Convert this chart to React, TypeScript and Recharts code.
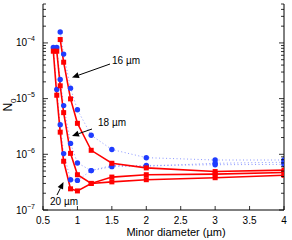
import { LineChart, Line, XAxis, YAxis } from "recharts";

// minor diameter (µm) sample points
const diam = [0.65, 0.7, 0.75, 0.8, 0.9, 1.0, 1.2, 1.5, 2, 3, 4];

// red (solid, squares)
const red16 = [null, null, 1.15e-4, 4.5e-5, 9.9e-6, 3.6e-6, 1.18e-6, 6.9e-7, 5.7e-7, 4.9e-7, 5.2e-7];
const red18 = [null, 7.1e-5, 1.7e-5, 5.6e-6, 1.04e-6, 4.3e-7, 3.0e-7, 3.9e-7, 4.3e-7, 4.4e-7, 4.7e-7];
const red20 = [7.1e-5, 1.15e-5, 2.5e-6, 7.5e-7, 2.4e-7, 2.2e-7, 3.0e-7, 3.2e-7, 3.5e-7, 3.8e-7, 4.2e-7];

// blue (dotted, circles)
const blue16 = [null, null, 1.57e-4, 6.3e-5, 1.54e-5, 6.3e-6, 2.2e-6, 1.22e-6, 8.7e-7, 7.9e-7, 7.9e-7];
const blue18 = [null, 8.3e-5, 2.2e-5, 7.5e-6, 1.57e-6, 7.0e-7, 5.1e-7, 6.0e-7, 6.1e-7, 6.9e-7, 7.2e-7];
const blue20 = [8.3e-5, 1.46e-5, 3.4e-6, 1.03e-6, 3.5e-7, 3.4e-7, 5.1e-7, 6.3e-7, 6.3e-7, 6.5e-7, 6.6e-7];

const xTicks = [0.5, 1, 1.5, 2, 2.5, 3, 3.5, 4];
const decades = [1e-7, 1e-6, 1e-5, 1e-4];
const mults = [1, 2, 3, 4, 5, 6, 7, 8, 9];
const yMax = 5e-4;
const yTicks = decades.flatMap((d) => mults.map((m) => m * d)).filter((v) => v <= yMax * 1.0001);

const data = diam.map((x, i) => ({
  x,
  r16: red16[i], r18: red18[i], r20: red20[i],
  b16: blue16[i], b18: blue18[i], b20: blue20[i],
}));

const FONT = "'Liberation Sans', Arial, Helvetica, sans-serif";
const RED = "#ff0000";
const BLUE = "#1f3cff";

const isMajor = (v: number) => {
  const lg = Math.log10(v);
  return Math.abs(lg - Math.round(lg)) < 1e-6;
};

const LeftTick = (p: any) => {
  const { x, y, payload } = p;
  const major = isMajor(payload.value);
  const e = Math.round(Math.log10(payload.value));
  return (
    <g>
      <line x1={x} x2={x + (major ? 5 : 3)} y1={y} y2={y} stroke="#000" strokeWidth={0.8} />
      {major && (
        <text x={x - 8} y={y + 3.5} textAnchor="end" fontSize={10} fontFamily={FONT} fill="#000">
          10<tspan dy={-5} fontSize={7}>{"\u2212" + -e}</tspan>
        </text>
      )}
    </g>
  );
};

const RightTick = (p: any) => {
  const { x, y, payload } = p;
  const major = isMajor(payload.value);
  return <line x1={x} x2={x - (major ? 5 : 3)} y1={y} y2={y} stroke="#000" strokeWidth={0.8} />;
};

const BottomTick = (p: any) => {
  const { x, y, payload } = p;
  return (
    <g>
      <line x1={x} x2={x} y1={y} y2={y - 4} stroke="#000" strokeWidth={0.8} />
      <text x={x} y={y + 14} textAnchor="middle" fontSize={10} fontFamily={FONT} fill="#000">
        {payload.value}
      </text>
    </g>
  );
};

const TopTick = (p: any) => {
  const { x, y } = p;
  return <line x1={x} x2={x} y1={y} y2={y + 4} stroke="#000" strokeWidth={0.8} />;
};

const Square = (p: any) => {
  const { cx, cy, index } = p;
  if (cx == null || cy == null) return null;
  return <rect key={index} x={cx - 2.5} y={cy - 2.5} width={5} height={5} fill={RED} />;
};

const Circle = (p: any) => {
  const { cx, cy, index } = p;
  if (cx == null || cy == null) return null;
  return <circle key={index} cx={cx} cy={cy} r={2.7} fill={BLUE} />;
};

const Arrow = ({ x1, y1, x2, y2 }: { x1: number; y1: number; x2: number; y2: number }) => {
  const a = Math.atan2(y2 - y1, x2 - x1);
  const L = 7, W = 3;
  const bx = x2 - L * Math.cos(a), by = y2 - L * Math.sin(a);
  const px = -Math.sin(a) * W, py = Math.cos(a) * W;
  return (
    <g>
      <line x1={x1} y1={y1} x2={bx} y2={by} stroke="#000" strokeWidth={1} />
      <polygon points={`${x2},${y2} ${bx + px},${by + py} ${bx - px},${by - py}`} fill="#000" />
    </g>
  );
};

export default function App() {
  return (
    <div style={{ position: "absolute", left: 0, top: 0, width: 292, height: 240, background: "#fff" }}>
      <LineChart width={292} height={240} data={data} margin={{ top: 4, right: 0, bottom: 0, left: 0 }}>
        <XAxis
          dataKey="x" type="number" domain={[0.5, 4]} ticks={xTicks} interval={0}
          allowDataOverflow height={30} tickSize={0} tickMargin={0} tickLine={false}
          tick={<BottomTick />} stroke="#000"
        />
        <XAxis
          xAxisId="top" orientation="top" dataKey="x" type="number" domain={[0.5, 4]} ticks={xTicks}
          interval={0} allowDataOverflow height={0} tickSize={0} tickMargin={0} tickLine={false}
          tick={<TopTick />} stroke="#000"
        />
        <YAxis
          scale="log" type="number" domain={[1e-7, yMax]} ticks={yTicks} interval={0}
          allowDataOverflow width={43} tickSize={0} tickMargin={0} tickLine={false}
          tick={<LeftTick />} stroke="#000"
        />
        <YAxis
          yAxisId="right" orientation="right" scale="log" type="number" domain={[1e-7, yMax]}
          ticks={yTicks} interval={0} allowDataOverflow width={8} tickSize={0} tickMargin={0}
          tickLine={false} tick={<RightTick />} stroke="#000"
        />
        {["b16", "b18", "b20"].map((k) => (
          <Line
            key={k} type="linear" dataKey={k} stroke="#8a97ff" strokeWidth={1}
            strokeDasharray="1 2.5" dot={<Circle />} isAnimationActive={false}
          />
        ))}
        {["r16", "r18", "r20"].map((k) => (
          <Line
            key={k} type="linear" dataKey={k} stroke={RED} strokeWidth={1.6}
            dot={<Square />} isAnimationActive={false}
          />
        ))}
      </LineChart>
      <svg width={292} height={240} style={{ position: "absolute", left: 0, top: 0, pointerEvents: "none" }}>
        <g fontFamily={FONT} fontSize={10} fill="#000">
          <text x={112} y={64}>16 µm</text>
          <text x={98} y={126}>18 µm</text>
          <text x={50} y={205}>20 µm</text>
          <text x={176} y={236} textAnchor="middle" fontSize={11}>Minor diameter (µm)</text>
          <text x={12} y={105} textAnchor="middle" fontSize={12} transform="rotate(-90 12 105)">
            N<tspan dy={4} fontSize={8}>0</tspan>
          </text>
        </g>
        <Arrow x1={110} y1={64} x2={72} y2={77.5} />
        <Arrow x1={92} y1={129} x2={72} y2={136} />
        <Arrow x1={57} y1={195} x2={63.5} y2={182} />
      </svg>
    </div>
  );
}
